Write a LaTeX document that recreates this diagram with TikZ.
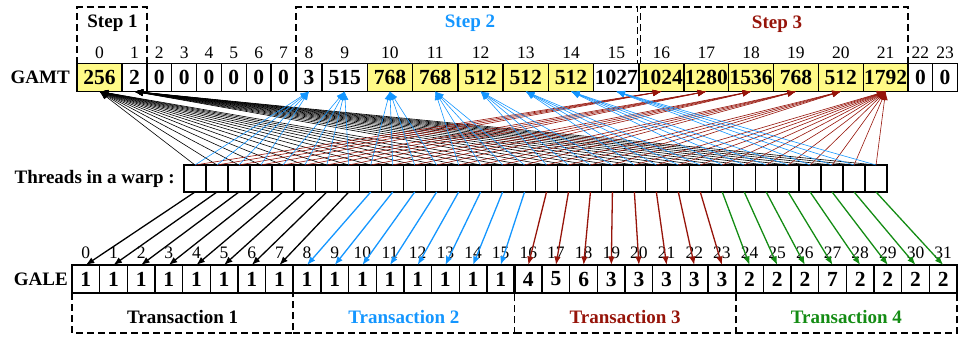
\documentclass[tikz,border=0pt]{standalone}
\usepackage{fontspec}
\setmainfont{Liberation Serif}
\usetikzlibrary{arrows.meta}
\definecolor{cyel}{RGB}{255,250,135}
\definecolor{cblue}{RGB}{20,150,255}
\definecolor{cred}{RGB}{150,20,10}
\definecolor{cgreen}{RGB}{20,140,20}
\begin{document}
\begin{tikzpicture}[x=1pt,y=-1pt,
  cellbox/.style={draw, line width=1.35pt, inner sep=0pt, outer sep=0pt, font=\fontsize{21.5}{21.5}\selectfont\bfseries},
  idx/.style={inner sep=0pt, font=\fontsize{17.5}{17.5}\selectfont},
  lbl/.style={inner sep=0pt, font=\fontsize{19}{19}\selectfont\bfseries},
  dashbox/.style={dash pattern=on 7pt off 4pt, line width=1.6pt},
  upar/.style={line width=0.6pt, -{Latex[length=8.5pt,width=6.5pt]}},
  dnar/.style={line width=1.3pt, -{Latex[length=8.5pt,width=6.5pt]}},
  sepline/.style={line width=2.2pt}
]
\useasboundingbox (0,0) rectangle (958,341);

% GAMT row
\foreach \i/\l/\r/\v/\f in {0/77/122/256/cyel, 1/122/146.86/2/white, 2/146.86/171.71/0/white, 3/171.71/196.57/0/white, 4/196.57/221.43/0/white, 5/221.43/246.29/0/white, 6/246.29/271.14/0/white, 7/271.14/296/0/white, 8/296/322/3/white, 9/322/367.29/515/white, 10/367.29/412.57/768/cyel, 11/412.57/457.86/768/cyel, 12/457.86/503.14/512/cyel, 13/503.14/548.43/512/cyel, 14/548.43/593.71/512/cyel, 15/593.71/639/1027/white, 16/639/683.83/1024/cyel, 17/683.83/728.67/1280/cyel, 18/728.67/773.5/1536/cyel, 19/773.5/818.33/768/cyel, 20/818.33/863.17/512/cyel, 21/863.17/908/1792/cyel, 22/908/932.75/0/white, 23/932.75/957.3/0/white}{
  \pgfmathsetmacro\cx{(\l+\r)/2}
  \pgfmathsetmacro\cw{\r-\l}
  \node[cellbox, fill=\f, minimum width=\cw pt, minimum height=28pt] (m\i) at (\cx,77.5) {\v};
  \node[idx] (mi\i) at (\cx,53) {\i};
}
\draw[sepline] (m15.north east) -- (m15.south east);

% Threads
\foreach \i in {0,...,31}{
  \pgfmathsetmacro\cx{184+21.97*(\i+0.5)}
  \node[cellbox, minimum width=21.97pt, minimum height=27pt] (t\i) at (\cx,178.5) {};
}

% GALE row
\foreach \i/\v in {0/1,1/1,2/1,3/1,4/1,5/1,6/1,7/1,8/1,9/1,10/1,11/1,12/1,13/1,14/1,15/1,16/4,17/5,18/6,19/3,20/3,21/3,22/3,23/3,24/2,25/2,26/2,27/7,28/2,29/2,30/2,31/2}{
  \pgfmathsetmacro\cx{72+27.656*(\i+0.5)}
  \node[cellbox, minimum width=27.656pt, minimum height=28pt] (g\i) at (\cx,279) {\v};
  \node[idx] (gi\i) at (\cx,252.5) {\i};
}
\draw[sepline] (g7.north east) -- (g7.south east);
\draw[sepline] (g15.north east) -- (g15.south east);
\draw[sepline] (g23.north east) -- (g23.south east);

% Row labels
\node[lbl, anchor=east] (lgamt) at (70,77.5) {GAMT};
\node[lbl, anchor=east] (lthr) at (175,178.5) {Threads in a warp :};
\node[lbl, anchor=east] (lgale) at (68,279) {GALE};

% Steps
\node[lbl] (s1) at (112.5,23) {Step 1};
\node[lbl, text=cblue] (s2) at (470,23) {Step 2};
\node[lbl, text=cred] (s3) at (777,24) {Step 3};
\draw[dashbox] (77,63.5) -- (77,7) -- (147,7) -- (147,63.5);
\draw[dashbox] (296,63.5) -- (296,7) -- (637.5,7) -- (637.5,63.5);
\draw[dashbox] (640.5,63.5) -- (640.5,7) -- (908,7) -- (908,63.5);

% Transactions
\draw[dashbox] (72,293) -- (72,333) -- (293.25,333) -- (293.25,293);
\draw[dashbox] (293.25,333) -- (514.5,333) -- (514.5,293);
\draw[dashbox] (514.5,333) -- (735.75,333) -- (735.75,293);
\draw[dashbox] (735.75,333) -- (957,333) -- (957,293);
\node[lbl] (tr1) at (182.6,317) {Transaction 1};
\node[lbl, text=cblue] (tr2) at (403.9,317) {Transaction 2};
\node[lbl, text=cred] (tr3) at (625.1,317) {Transaction 3};
\node[lbl, text=cgreen] (tr4) at (846.4,317) {Transaction 4};

% Top connectors
\foreach \i in {0,...,15} \draw[upar] (t\i.north) -- (m0.south);
\foreach \i in {16,...,31} \draw[upar] (t\i.north) -- (m1.south);
\foreach \i in {0,...,31}{
  \pgfmathtruncatemacro\k{\i<20 ? 16+floor(\i/4) : 21}
  \draw[upar, cred] (t\i.north) -- (m\k.south);
}
\foreach \i in {0,...,31}{
  \pgfmathtruncatemacro\k{8+floor(\i/4)}
  \draw[upar, cblue] (t\i.north) -- (m\k.south);
}

% Bottom connectors
\foreach \i in {0,...,7} \draw[dnar] (t\i.south) -- (g\i.north);
\foreach \i in {8,...,15} \draw[dnar, cblue] (t\i.south) -- (g\i.north);
\foreach \i in {16,...,23} \draw[dnar, cred] (t\i.south) -- (g\i.north);
\foreach \i in {24,...,31} \draw[dnar, cgreen] (t\i.south) -- (g\i.north);
\end{tikzpicture}
\end{document}
